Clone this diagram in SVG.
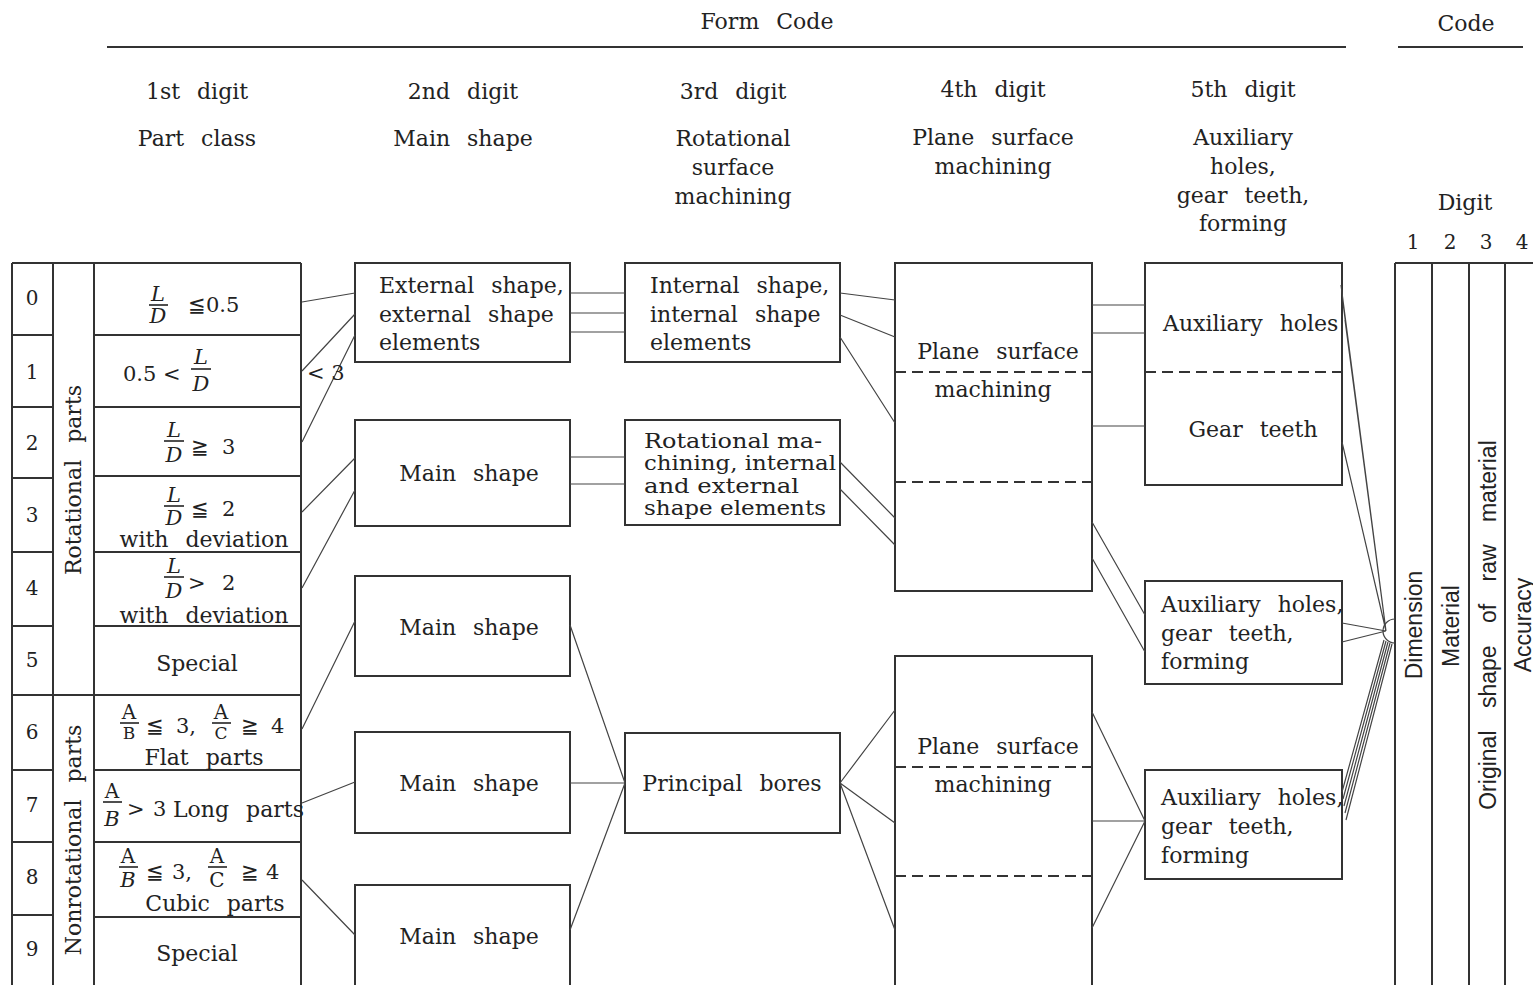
<svg xmlns="http://www.w3.org/2000/svg" width="1533" height="985" viewBox="0 0 1533 985">
<style>
text{font-family:"DejaVu Serif","Liberation Serif",serif;fill:#222;}
.t{font-size:22px;word-spacing:10px;}
.h{font-size:22px;word-spacing:10px;text-anchor:middle;}
.n{font-size:20px;text-anchor:middle;}
.f{font-size:21px;text-anchor:middle;font-style:italic;}
.fu{font-size:20px;text-anchor:middle;}
.fs{font-size:17px;text-anchor:middle;}
.s{font-size:21px;}
.sans{font-family:"Liberation Sans","Open Sans",sans-serif;font-size:23px;word-spacing:16px;text-anchor:middle;}
.box{fill:none;stroke:#333;stroke-width:2;}
.ln{stroke:#333;stroke-width:2;fill:none;}
.dash{stroke:#333;stroke-width:2;stroke-dasharray:11 6;fill:none;}
.bar{stroke:#222;stroke-width:1.6;}
.c{stroke:#444;stroke-width:1.2;fill:none;}
</style>
<rect width="1533" height="985" fill="#fff"/>

<g id="header">
<text class="h" x="767" y="29">Form Code</text>
<line class="ln" x1="107" y1="47" x2="1346" y2="47"/>
<text class="h" x="1466" y="31">Code</text>
<line class="ln" x1="1398" y1="47" x2="1523" y2="47"/>
<text class="h" x="197" y="99">1st digit</text>
<text class="h" x="197" y="146">Part class</text>
<text class="h" x="463" y="99">2nd digit</text>
<text class="h" x="463" y="146">Main shape</text>
<text class="h" x="733" y="99">3rd digit</text>
<text class="h" x="733" y="146">Rotational</text>
<text class="h" x="733" y="175">surface</text>
<text class="h" x="733" y="204">machining</text>
<text class="h" x="993" y="97">4th digit</text>
<text class="h" x="993" y="145">Plane surface</text>
<text class="h" x="993" y="174">machining</text>
<text class="h" x="1243" y="97">5th digit</text>
<text class="h" x="1243" y="145">Auxiliary</text>
<text class="h" x="1243" y="174">holes,</text>
<text class="h" x="1243" y="203">gear teeth,</text>
<text class="h" x="1243" y="231">forming</text>
<text class="h" x="1465" y="210">Digit</text>
<text class="n" x="1413" y="249">1</text>
<text class="n" x="1450" y="249">2</text>
<text class="n" x="1486" y="249">3</text>
<text class="n" x="1522" y="249">4</text>
</g>

<g id="part-class-table">
<line class="ln" x1="12" y1="263" x2="301" y2="263"/>
<line class="ln" x1="12" y1="263" x2="12" y2="985"/>
<line class="ln" x1="53" y1="263" x2="53" y2="985"/>
<line class="ln" x1="94" y1="263" x2="94" y2="985"/>
<line class="ln" x1="301" y1="263" x2="301" y2="985"/>
<path class="ln" d="M12 335H53M12 407H53M12 478H53M12 552H53M12 626H53M12 695H301M12 770H53M12 842H53M12 915H53"/>
<path class="ln" d="M94 335H301M94 407H301M94 476H301M94 552H301M94 626H301M94 770H301M94 842H301M94 917H301"/>
<text class="n" x="32" y="305">0</text>
<text class="n" x="32" y="379">1</text>
<text class="n" x="32" y="450">2</text>
<text class="n" x="32" y="522">3</text>
<text class="n" x="32" y="595">4</text>
<text class="n" x="32" y="667">5</text>
<text class="n" x="32" y="739">6</text>
<text class="n" x="32" y="812">7</text>
<text class="n" x="32" y="884">8</text>
<text class="n" x="32" y="956">9</text>
<text class="h" transform="translate(81,480) rotate(-90)">Rotational parts</text>
<text class="h" transform="translate(81,840) rotate(-90)">Nonrotational parts</text>
</g>

<g id="row0">
<text class="f" x="158" y="301">L</text><line class="bar" x1="149" y1="305" x2="168" y2="305"/><text class="f" x="158" y="323">D</text>
<text class="s" x="188" y="312">≦0.5</text>
</g>
<g id="row1">
<text class="s" x="123" y="381">0.5 &lt;</text>
<text class="f" x="201" y="364">L</text><line class="bar" x1="191" y1="369" x2="211" y2="369"/><text class="f" x="201" y="391">D</text>
</g>
<g id="row2">
<text class="f" x="174" y="437">L</text><line class="bar" x1="164" y1="441" x2="184" y2="441"/><text class="f" x="174" y="462">D</text>
<text class="s" x="191" y="454">≧</text><text class="s" x="222" y="454">3</text>
</g>
<g id="row3">
<text class="f" x="174" y="502">L</text><line class="bar" x1="164" y1="506" x2="184" y2="506"/><text class="f" x="174" y="525">D</text>
<text class="s" x="191" y="516">≦</text><text class="s" x="222" y="516">2</text>
<text class="h" x="204" y="547">with deviation</text>
</g>
<g id="row4">
<text class="f" x="174" y="573">L</text><line class="bar" x1="164" y1="577" x2="184" y2="577"/><text class="f" x="174" y="598">D</text>
<text class="s" x="188" y="590">&gt;</text><text class="s" x="222" y="590">2</text>
<text class="h" x="204" y="623">with deviation</text>
</g>
<g id="row5"><text class="h" x="197" y="671">Special</text></g>
<g id="row6">
<text class="fu" x="129" y="719">A</text><line class="bar" x1="120" y1="723" x2="139" y2="723"/><text class="fs" x="129" y="739">B</text>
<text class="s" x="146" y="733">≦</text><text class="s" x="176" y="733">3,</text>
<text class="fu" x="221" y="719">A</text><line class="bar" x1="212" y1="723" x2="231" y2="723"/><text class="fs" x="221" y="739">C</text>
<text class="s" x="241" y="733">≧</text><text class="s" x="271" y="733">4</text>
<text class="h" x="204" y="765">Flat parts</text>
</g>
<g id="row7">
<text class="fu" x="112" y="798">A</text><line class="bar" x1="103" y1="802" x2="122" y2="802"/><text class="f" x="112" y="826">B</text>
<text class="s" x="127" y="816">&gt;</text><text class="s" x="153" y="816">3</text>
<text class="t" x="173" y="817">Long parts</text>
</g>
<g id="row8">
<text class="fu" x="128" y="863">A</text><line class="bar" x1="119" y1="867" x2="138" y2="867"/><text class="f" x="128" y="887">B</text>
<text class="s" x="146" y="879">≦</text><text class="s" x="172" y="879">3,</text>
<text class="fu" x="217" y="863">A</text><line class="bar" x1="208" y1="867" x2="227" y2="867"/><text class="fu" x="217" y="887">C</text>
<text class="s" x="241" y="879">≧</text><text class="s" x="266" y="879">4</text>
<text class="h" x="215" y="911">Cubic parts</text>
</g>
<g id="row9"><text class="h" x="197" y="961">Special</text></g>

<g id="box-external-shape">
<rect class="box" x="355" y="263" width="215" height="99"/>
<text class="t" x="379" y="293">External shape,</text>
<text class="t" x="379" y="322">external shape</text>
<text class="t" x="379" y="350">elements</text>
</g>
<g id="box-main-shape-1"><rect class="box" x="355" y="420" width="215" height="106"/><text class="h" x="469" y="481">Main shape</text></g>
<g id="box-main-shape-2"><rect class="box" x="355" y="576" width="215" height="100"/><text class="h" x="469" y="635">Main shape</text></g>
<g id="box-main-shape-3"><rect class="box" x="355" y="732" width="215" height="101"/><text class="h" x="469" y="791">Main shape</text></g>
<g id="box-main-shape-4"><rect class="box" x="355" y="885" width="215" height="120"/><text class="h" x="469" y="944">Main shape</text></g>

<g id="box-internal-shape">
<rect class="box" x="625" y="263" width="215" height="99"/>
<text class="t" x="650" y="293">Internal shape,</text>
<text class="t" x="650" y="322">internal shape</text>
<text class="t" x="650" y="350">elements</text>
</g>
<g id="box-rotational-machining">
<rect class="box" x="625" y="420" width="215" height="105"/>
<text class="s" x="644" y="448" textLength="178" lengthAdjust="spacingAndGlyphs">Rotational ma-</text>
<text class="s" x="644" y="470" textLength="192" lengthAdjust="spacingAndGlyphs">chining, internal</text>
<text class="s" x="644" y="493" textLength="155" lengthAdjust="spacingAndGlyphs">and external</text>
<text class="s" x="644" y="515" textLength="182" lengthAdjust="spacingAndGlyphs">shape elements</text>
</g>
<g id="box-principal-bores"><rect class="box" x="625" y="733" width="215" height="100"/><text class="h" x="732" y="791">Principal bores</text></g>

<g id="box-plane-surface-1">
<rect class="box" x="895" y="263" width="197" height="328"/>
<line class="dash" x1="895" y1="372" x2="1092" y2="372"/>
<line class="dash" x1="895" y1="482" x2="1092" y2="482"/>
<text class="h" x="998" y="359">Plane surface</text>
<text class="h" x="993" y="397">machining</text>
</g>
<g id="box-plane-surface-2">
<rect class="box" x="895" y="656" width="197" height="350"/>
<line class="dash" x1="895" y1="767" x2="1092" y2="767"/>
<line class="dash" x1="895" y1="876" x2="1092" y2="876"/>
<text class="h" x="998" y="754">Plane surface</text>
<text class="h" x="993" y="792">machining</text>
</g>

<g id="box-aux-gear">
<rect class="box" x="1145" y="263" width="197" height="222"/>
<line class="dash" x1="1145" y1="372" x2="1342" y2="372"/>
<text class="t" x="1163" y="331">Auxiliary holes</text>
<text class="h" x="1253" y="437">Gear teeth</text>
</g>
<g id="box-aux-forming-1">
<rect class="box" x="1145" y="581" width="197" height="103"/>
<text class="t" x="1161" y="612">Auxiliary holes,</text>
<text class="t" x="1161" y="641">gear teeth,</text>
<text class="t" x="1161" y="669">forming</text>
</g>
<g id="box-aux-forming-2">
<rect class="box" x="1145" y="770" width="197" height="109"/>
<text class="t" x="1161" y="805">Auxiliary holes,</text>
<text class="t" x="1161" y="834">gear teeth,</text>
<text class="t" x="1161" y="863">forming</text>
</g>

<g id="code-table">
<line class="ln" x1="1395" y1="263" x2="1533" y2="263"/>
<line class="ln" x1="1395" y1="263" x2="1395" y2="985"/>
<line class="ln" x1="1432" y1="263" x2="1432" y2="985"/>
<line class="ln" x1="1469" y1="263" x2="1469" y2="985"/>
<line class="ln" x1="1505" y1="263" x2="1505" y2="985"/>
<text class="sans" transform="translate(1422,625) rotate(-90)">Dimension</text>
<text class="sans" transform="translate(1459,626) rotate(-90)">Material</text>
<text class="sans" transform="translate(1496,625) rotate(-90)">Original shape of raw material</text>
<text class="sans" transform="translate(1531,625) rotate(-90)">Accuracy</text>
</g>

<g id="connectors">
<path class="c" d="M302 302L355 293M302 371L355 314M302 442L355 335"/>
<text class="s" x="307" y="380">&lt; 3</text>
<path class="c" d="M302 512L355 458M302 588L355 490M302 729L355 621M302 803L355 782M302 880L355 935"/>
<path class="c" d="M570 293H625M570 313H625M570 332H625M570 457H625M570 484H625"/>
<path class="c" d="M570 625L625 783M570 783H625M570 930L625 783"/>
<path class="c" d="M840 293L895 300M840 315L895 337M840 337L895 423M840 462L895 518M840 489L895 545"/>
<path class="c" d="M840 783L895 710M840 783L895 823M840 783L895 930"/>
<path class="c" d="M1092 305H1145M1092 333H1145M1092 426H1145M1092 522L1145 615M1092 558L1145 652"/>
<path class="c" d="M1092 712L1145 821M1092 821H1145M1092 928L1145 821"/>
<path class="c" d="M1341 285L1386 631M1343 303L1386 631M1345 320L1386 631M1342 442L1386 631M1342 623L1386 631M1342 642L1386 631"/>
<path class="c" d="M1342 792L1384 640M1343 799L1386 641M1344 806L1388 642M1345 813L1390 643M1346 820L1392 644"/>
<path class="c" d="M1395 619A12 12 0 0 0 1395 643"/>
</g>
</svg>
